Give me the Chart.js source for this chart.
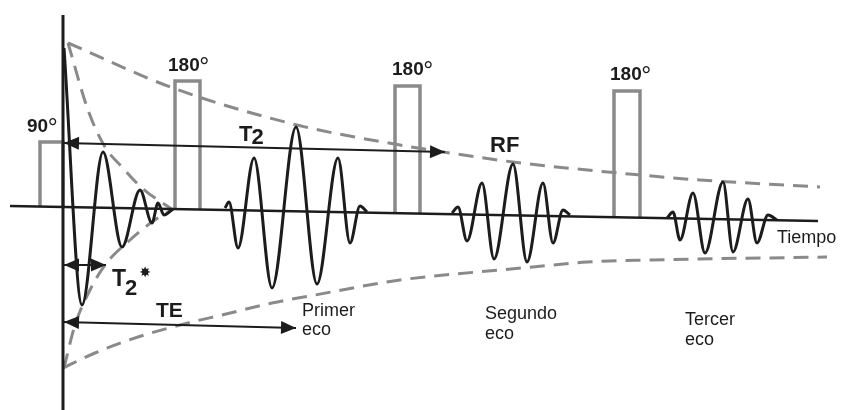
<!DOCTYPE html>
<html>
<head>
<meta charset="utf-8">
<script src="https://cdn.jsdelivr.net/npm/chart.js@4/dist/chart.umd.min.js"></script>
<style>
  html, body { margin: 0; padding: 0; background: #ffffff; }
  #wrap { width: 841px; height: 410px; position: relative; }
</style>
</head>
<body>
<div id="wrap"><canvas id="seq"></canvas></div>
<script>
// Spin-echo sequence. Time t in arbitrary units (0 = end of the 90° pulse),
// signal amplitude a in arbitrary units (0 = resting level).

// Axes of the diagram
const axisT = [0, 0];
const axisA = [192, -203];
const baseT = [-53, 755];
const baseA = [1, -14];

// RF pulses: start / end time, height and foot on the time line
const pulseLabels = ['90', '180', '180', '180'];
const pulseStart = [-23, 112, 332, 551];
const pulseEnd   = [0, 137, 357, 577];
const pulseTop   = [65, 126, 121, 116];
const pulseFoot  = [1, -2, -6, -10];

// Free induction decay (extremes of the oscillation)
const fidT = [1, 19, 40, 59, 77, 89, 95, 101, 110];
const fidA = [159, -98, 55, -40, 17, -16, 4, -8, -2];

// Echoes
const echo1T = [162, 166, 175, 191, 209, 233, 254, 275, 287, 297, 304];
const echo1A = [-1, 5, -41, 49, -81, 80, -77, 49, -36, 1, -5];
const echo2T = [389, 395, 404, 419, 431, 450, 464, 480, 490, 500, 507];
const echo2A = [-6, 0, -34, 24, -52, 43, -55, 24, -36, -3, -8];
const echo3T = [604, 610, 617, 630, 642, 660, 670, 685, 694, 705, 714];
const echo3A = [-11, -5, -33, 14, -46, 25, -45, 8, -36, -8, -13];

// T2 decay envelope
const t2UpT = [5, 110, 234, 337, 387, 450, 577, 637, 757];
const t2UpA = [164, 119, 82, 62, 54, 45, 32, 27, 20];
const t2LoT = [0, 32, 75, 125, 159, 209, 252, 337, 414, 470, 524, 587, 764];
const t2LoA = [-161, -146, -130, -116, -108, -96, -88, -73, -65, -60, -55, -53, -50];

// T2* decay envelope
const t2sUpT = [5, 25, 42, 59, 79, 110];
const t2sUpA = [164, 97, 60, 40, 19, -3];
const t2sLoT = [1, 12, 27, 42, 67, 89, 110];
const t2sLoA = [-161, -118, -83, -58, -33, -15, -2];

// Interval arrows
const arrowT2T  = [0, 382];
const arrowT2A  = [64, 55];
const arrowT2sT = [0, 43];
const arrowT2sA = [-58, -58];
const arrowTET  = [0, 233];
const arrowTEA  = [-115, -121];

const pts = (ts, as) => ts.map((t, i) => ({ x: t, y: as[i] }));

const INK = '#1c1c1c';
const GREY = '#8a8a8a';

const datasets = [];
const wave = (ts, as) => ({
  data: pts(ts, as), borderColor: INK, borderWidth: 3,
  cubicInterpolationMode: 'monotone', order: 1
});
datasets.push(wave(fidT, fidA), wave(echo1T, echo1A), wave(echo2T, echo2A), wave(echo3T, echo3A));

const arrow = (ts, as) => ({
  data: pts(ts, as), borderColor: INK, borderWidth: 1.8, tension: 0, arrows: true, order: 2
});
datasets.push(arrow(arrowT2T, arrowT2A), arrow(arrowT2sT, arrowT2sA), arrow(arrowTET, arrowTEA));

datasets.push({ data: pts(axisT, axisA), borderColor: INK, borderWidth: 3, tension: 0, order: 3 });
datasets.push({ data: pts(baseT, baseA), borderColor: INK, borderWidth: 2.4, tension: 0, order: 3 });

const env = (ts, as) => ({
  data: pts(ts, as), borderColor: GREY, borderWidth: 3, borderDash: [15, 9],
  cubicInterpolationMode: 'monotone', order: 4
});
datasets.push(env(t2UpT, t2UpA), env(t2LoT, t2LoA), env(t2sUpT, t2sUpA), env(t2sLoT, t2sLoA));

pulseStart.forEach((s, i) => {
  datasets.push({
    data: pts([s, s, pulseEnd[i], pulseEnd[i]], [pulseFoot[i], pulseTop[i], pulseTop[i], pulseFoot[i]]),
    borderColor: GREY, borderWidth: 3.5, tension: 0, order: 5, pulse: i
  });
});

const FONT = '"Liberation Sans", Arial, Helvetica, sans-serif';

const annotations = {
  id: 'annotations',
  afterDatasetsDraw(chart) {
    const { ctx } = chart;
    const xs = chart.scales.x, ys = chart.scales.y;
    const X = t => xs.getPixelForValue(t);
    const Y = a => ys.getPixelForValue(a);

    ctx.save();
    // arrow heads at both ends of each interval arrow
    const head = (tip, from) => {
      const ang = Math.atan2(tip.y - from.y, tip.x - from.x);
      const L = 15, W = 6.5;
      ctx.beginPath();
      ctx.moveTo(tip.x, tip.y);
      ctx.lineTo(tip.x - L * Math.cos(ang) + W * Math.sin(ang), tip.y - L * Math.sin(ang) - W * Math.cos(ang));
      ctx.lineTo(tip.x - L * Math.cos(ang) - W * Math.sin(ang), tip.y - L * Math.sin(ang) + W * Math.cos(ang));
      ctx.closePath();
      ctx.fillStyle = INK;
      ctx.fill();
    };
    chart.data.datasets.forEach((ds, i) => {
      if (!ds.arrows) return;
      const el = chart.getDatasetMeta(i).data;
      const a = el[0], b = el[el.length - 1];
      head({ x: a.x + 1, y: a.y }, b);
      head(b, a);
    });

    ctx.fillStyle = INK;
    ctx.textBaseline = 'alphabetic';
    ctx.textAlign = 'left';
    const text = (s, x, y, font) => { ctx.font = font; ctx.fillText(s, x, y); return ctx.measureText(s).width; };

    // pulse flip angles with degree sign
    const angleOffset = [[-13, -10], [-7, -10], [-3, -11], [-4, -11]];
    pulseLabels.forEach((lab, i) => {
      const x0 = X(pulseStart[i]) + angleOffset[i][0];
      const y0 = Y(pulseTop[i]) + angleOffset[i][1];
      const w = text(lab, x0, y0, 'bold 19px ' + FONT);
      text('°', x0 + w - 0.5, y0 + 4, '25px ' + FONT);
    });

    // interval names
    let w = text('T', X(176), Y(66), 'bold 22px ' + FONT);
    text('2', X(176) + w - 1, Y(66) + 3, 'bold 22px ' + FONT);
    text('RF', X(427), Y(55), 'bold 22px ' + FONT);
    w = text('T', X(49), Y(-83) - 4, 'bold 23px ' + FONT);
    const w2 = text('2', X(49) + w - 1, Y(-83) + 5, 'bold 22px ' + FONT);
    text('✸', X(49) + w + w2 + 1, Y(-83) - 13, 'bold 14px "DejaVu Sans", sans-serif');
    text('TE', X(93), Y(-110), 'bold 21px ' + FONT);

    // echo names and time axis
    const lab = '18px ' + FONT;
    text('Primer', X(239), Y(-109), lab);
    text('eco', X(239), Y(-128), lab);
    text('Segundo', X(422), Y(-112), lab);
    text('eco', X(422), Y(-132), lab);
    text('Tercer', X(622), Y(-118), lab);
    text('eco', X(622), Y(-138), lab);
    text('Tiempo', X(714), Y(-36), lab);
    ctx.restore();
  }
};

new Chart(document.getElementById('seq'), {
  type: 'line',
  data: { datasets },
  options: {
    responsive: true,
    maintainAspectRatio: false,
    animation: false,
    events: [],
    layout: { padding: 0 },
    elements: { point: { radius: 0, hoverRadius: 0 }, line: { fill: false, borderCapStyle: 'butt', borderJoinStyle: 'miter' } },
    datasets: { line: { clip: false } },
    plugins: { legend: { display: false }, tooltip: { enabled: false } },
    scales: {
      x: { type: 'linear', min: -63, max: 778, display: false },
      y: { type: 'linear', min: -203, max: 207, display: false }
    }
  },
  plugins: [annotations]
});
</script>
</body>
</html>
